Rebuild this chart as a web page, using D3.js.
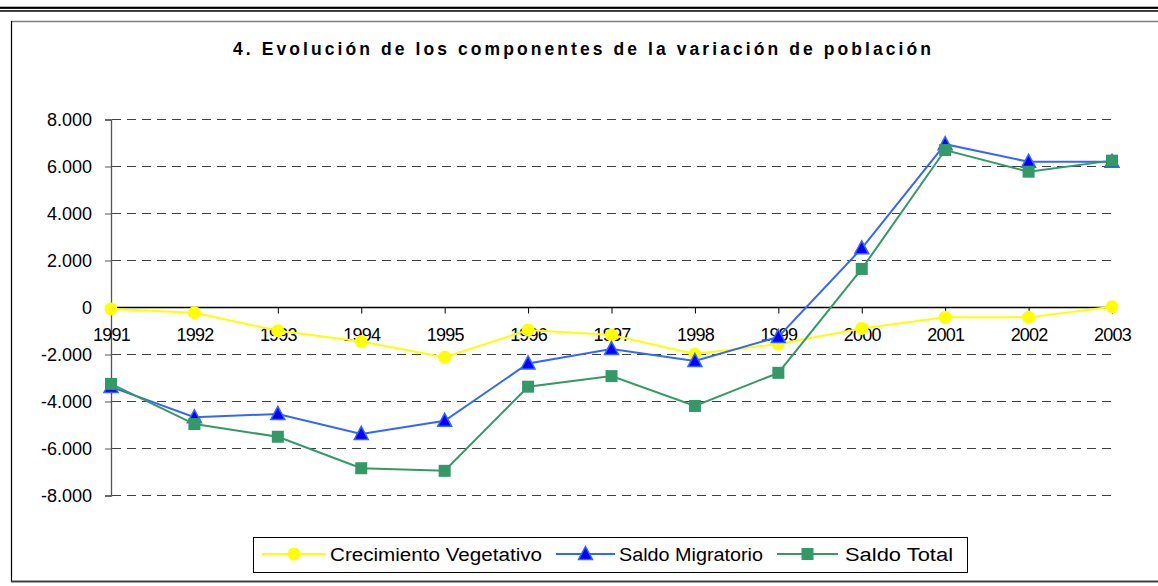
<!DOCTYPE html>
<html><head><meta charset="utf-8">
<script src="https://cdn.jsdelivr.net/npm/d3@7"></script>
<style>body{margin:0;background:#fff}svg{display:block}text{font-family:"Liberation Sans",Arial,sans-serif}</style>
</head><body>
<svg id="c" width="1158" height="586"></svg>
<script>
const years = ["1991","1992","1993","1994","1995","1996","1997","1998","1999","2000","2001","2002","2003"];
const crecimientoVegetativo = [-60,-220,-990,-1450,-2120,-960,-1170,-1980,-1550,-890,-420,-420,30];
const saldoMigratorio = [-3380,-4670,-4530,-5380,-4820,-2380,-1770,-2280,-1250,2520,6950,6200,6200];
const saldoTotal = [-3250,-4960,-5500,-6840,-6950,-3370,-2920,-4190,-2780,1640,6700,5780,6250];
const yTicks = [8000,6000,4000,2000,0,-2000,-4000,-6000,-8000];
const title = "4. Evolución de los componentes de la variación de población";
const seriesNames = ["Crecimiento Vegetativo","Saldo Migratorio","Saldo Total"];

const svg = d3.select("#c");
// top double rule
svg.append("rect").attr("x",0).attr("y",6.7).attr("width",1158).attr("height",2.2).attr("fill","#000");
svg.append("rect").attr("x",0).attr("y",10.2).attr("width",1158).attr("height",1.5).attr("fill","#000");
// frame
svg.append("line").attr("x1",11).attr("x2",1158).attr("y1",21.5).attr("y2",21.5).attr("stroke","#808080").attr("stroke-width",1.5);
svg.append("line").attr("x1",11.5).attr("x2",11.5).attr("y1",21).attr("y2",582).attr("stroke","#000").attr("stroke-width",1.2);
svg.append("line").attr("x1",11).attr("x2",1158).attr("y1",581.5).attr("y2",581.5).attr("stroke","#404040").attr("stroke-width",2.2);

svg.append("text").attr("x",582).attr("y",55).attr("text-anchor","middle")
  .attr("font-size",17.5).attr("font-weight","bold").attr("textLength",698).attr("lengthAdjust","spacing")
  .text(title);

const x = d3.scalePoint().domain(years).range([111,1112]);
const y = d3.scaleLinear().domain([-8000,8000]).range([495.5,119.5]);

// gridlines
svg.append("g").selectAll("line").data(yTicks.filter(d=>d!==0)).join("line")
  .attr("x1",112).attr("x2",1113).attr("y1",d=>y(d)).attr("y2",d=>y(d))
  .attr("stroke","#404040").attr("stroke-width",1).attr("stroke-dasharray","9,6");

// y axis
const yAxis = d3.axisLeft(y).tickValues(yTicks).tickSize(6).tickPadding(13)
  .tickFormat(d=>d3.format(",")(d).replace(/,/g,".").replace("−","-"));
const gy = svg.append("g").attr("transform","translate(111,0)").call(yAxis);
gy.select(".domain").attr("stroke","#555").attr("stroke-width",1.3);
gy.selectAll(".tick line").attr("stroke","#555");
gy.selectAll(".tick text").attr("font-size",18).attr("fill","#000").attr("font-family","Liberation Sans, Arial, sans-serif").attr("dy","0.32em");

// x axis at zero
const xAxis = d3.axisBottom(x).tickSize(6).tickPadding(15);
const gx = svg.append("g").attr("transform",`translate(0,${y(0)})`).call(xAxis);
gx.select(".domain").attr("stroke","#000").attr("stroke-width",1.3).attr("d",`M111,0H1113`);
gx.selectAll(".tick line").attr("stroke","#000");
gx.selectAll(".tick text").attr("font-size",18).attr("fill","#000").attr("letter-spacing","-0.8px").attr("font-family","Liberation Sans, Arial, sans-serif");

const line = d3.line().x((d,i)=>x(years[i])).y(d=>y(d));
const series = [
  {name:seriesNames[0], values:crecimientoVegetativo, color:"#FFFF00", marker:"circle", fill:"#FFFF00"},
  {name:seriesNames[1], values:saldoMigratorio, color:"#3366FF", marker:"triangle", fill:"#0000FF"},
  {name:seriesNames[2], values:saldoTotal, color:"#339966", marker:"square", fill:"#339966"}
];
function drawMarker(g, type, cx, cy, s){
  if(type==="circle") g.append("circle").attr("cx",cx).attr("cy",cy).attr("r",6.5).attr("fill",s.fill);
  else if(type==="triangle") g.append("path").attr("d",`M${cx},${cy-7.5}L${cx+7},${cy+5.5}L${cx-7},${cy+5.5}Z`).attr("fill",s.fill).attr("stroke",s.color).attr("stroke-width",1.5);
  else g.append("rect").attr("x",cx-6).attr("y",cy-6).attr("width",12).attr("height",12).attr("fill",s.fill);
}
series.forEach(s=>{
  svg.append("path").attr("d",line(s.values)).attr("fill","none").attr("stroke",s.color).attr("stroke-width",2);
  const g = svg.append("g");
  s.values.forEach((v,i)=>drawMarker(g,s.marker,x(years[i]),y(v),s));
});

// legend
const lg = svg.append("g");
lg.append("rect").attr("x",253.5).attr("y",537.5).attr("width",714).attr("height",35).attr("fill","#fff").attr("stroke","#000").attr("stroke-width",1);
const legendItems = [
  {x1:262,x2:326,tx:330,tl:212},
  {x1:556,x2:615,tx:619,tl:144},
  {x1:777,x2:838,tx:845,tl:108}
];
series.forEach((s,i)=>{
  const it = legendItems[i];
  const ly = 554;
  lg.append("line").attr("x1",it.x1).attr("x2",it.x2).attr("y1",ly).attr("y2",ly).attr("stroke",s.color).attr("stroke-width",2);
  drawMarker(lg,s.marker,(it.x1+it.x2)/2,ly,s);
  lg.append("text").attr("x",it.tx).attr("y",561).attr("font-size",18).attr("textLength",it.tl).attr("lengthAdjust","spacingAndGlyphs").text(s.name);
});
</script>
</body></html>
